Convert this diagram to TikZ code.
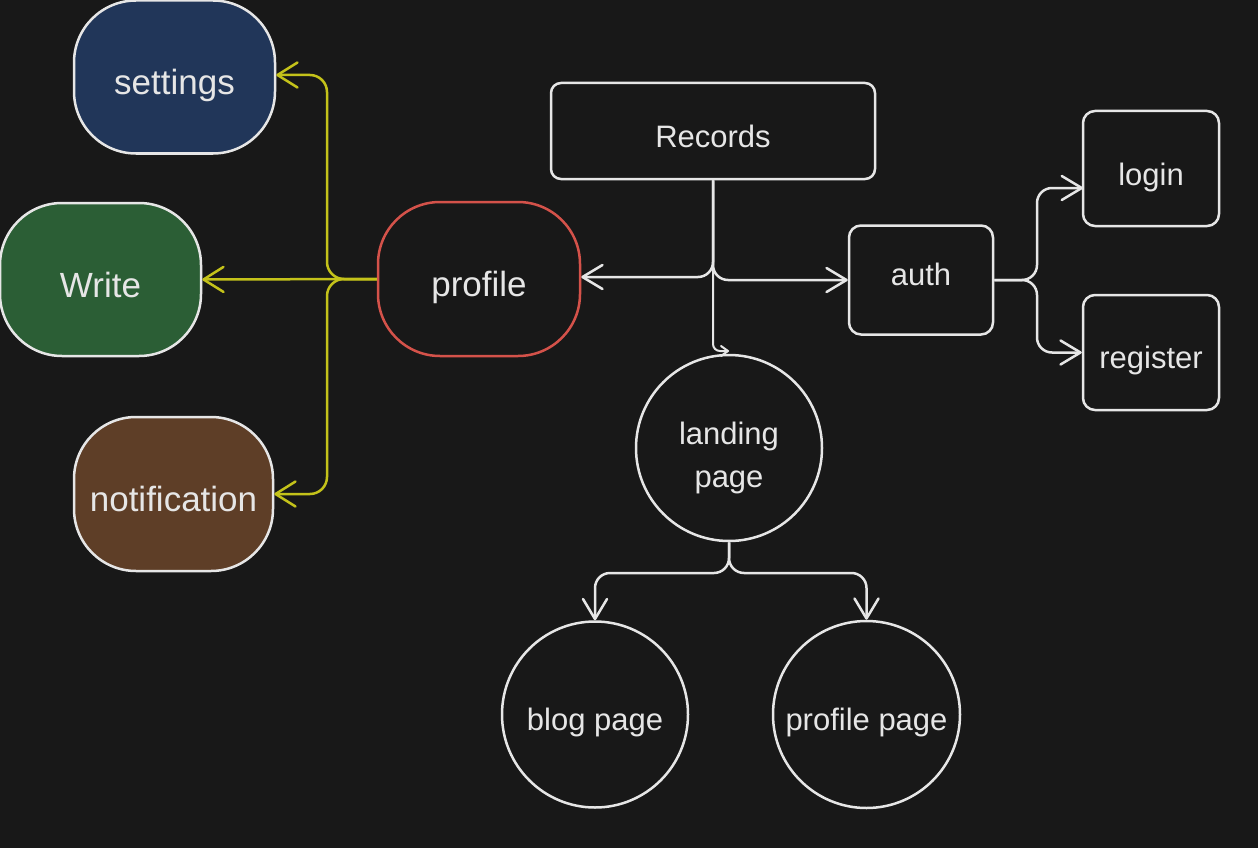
\documentclass[tikz,border=0pt]{standalone}
\usepackage{fontspec}
\setmainfont{Liberation Sans}
\usetikzlibrary{arrows.meta}
\definecolor{bg}{HTML}{181818}
\definecolor{ink}{HTML}{E6E6E6}
\definecolor{blobblue}{HTML}{213659}
\definecolor{blobgreen}{HTML}{2B5E35}
\definecolor{blobbrown}{HTML}{5E3E27}
\definecolor{redline}{HTML}{D4524A}
\definecolor{yel}{HTML}{C4C21A}
\tikzset{
  blob/.style={draw=ink, line width=2.5pt, rounded corners=62pt, text=ink, font=\fontsize{35}{40}\selectfont, text height=35pt, text depth=0pt},
  boxnode/.style={draw=ink, line width=2.5pt, rounded corners=12pt, text=ink, font=\fontsize{31}{36}\selectfont, text depth=0pt},
  circnode/.style={draw=ink, line width=2.5pt, circle, inner sep=0pt, text=ink, font=\fontsize{31}{43}\selectfont, align=center},
  lbl/.style={text=ink, font=\fontsize{31}{43}\selectfont, align=center},
  yconn/.style={draw=yel, line width=2.5pt, rounded corners=17pt, -{Straight Barb[length=20pt,width=25pt,round]}},
  wconn/.style={draw=ink, line width=2.5pt, rounded corners=15pt, -{Straight Barb[length=20pt,width=24pt,round]}},
  wsmall/.style={draw=ink, line width=2pt, rounded corners=7pt, -{Straight Barb[length=7pt,width=10pt,round]}},
}
\begin{document}
\begin{tikzpicture}[x=1pt,y=-1pt]
\fill[bg] (0,0) rectangle (1258,848);
\useasboundingbox (0,0) rectangle (1258,848);
% nodes
\node[blob, fill=blobblue, minimum width=201pt, minimum height=153pt] (settings) at (174.5,77) {settings};
\node[blob, fill=blobgreen, minimum width=201pt, minimum height=153pt] (write) at (100.5,279.5) {Write};
\node[blob, fill=blobbrown, minimum width=199pt, minimum height=154pt] (notif) at (173.5,494) {notification};
\node[blob, draw=redline, minimum width=202pt, minimum height=154pt] (profile) at (479,279) {profile};
\node[boxnode, minimum width=324pt, minimum height=96pt, rounded corners=10pt, text height=32pt] (records) at (713,131) {Records};
\node[boxnode, minimum width=144pt, minimum height=109pt, text height=11pt] (auth) at (921,280) {auth};
\node[boxnode, minimum width=136pt, minimum height=115pt, text height=33pt] (login) at (1151,168.5) {login};
\node[boxnode, minimum width=136pt, minimum height=115pt, text height=31pt] (register) at (1151,352.5) {register};
\node[circnode, minimum size=186pt] (landing) at (729,448) {};
\node[lbl, yshift=-10pt] (landingtext) at (landing.center) {landing\\page};
\node[circnode, minimum size=186pt, text height=31pt, text depth=0pt] (blog) at (595,714.5) {blog page};
\node[circnode, minimum size=187pt, text height=31pt, text depth=0pt] (ppage) at (866.5,714.5) {profile page};
% yellow connectors
\draw[yconn] (profile.west) -- (write.east);
\draw[yconn] (profile.west) -- (327,279) -- (327,75) -- (settings.east |- 0,75);
\draw[yconn] (profile.west) -- (327,279) -- (327,494) -- (notif.east);
% white connectors from Records
\coordinate (lt) at (729,351);
\draw[wconn] (records.south) -- (713,277) -- (profile.east |- 0,277);
\draw[wconn] (records.south) |- (auth.west);
\draw[wsmall] (records.south) |- (lt);
% auth
\coordinate (lin) at (1083,188);
\draw[wconn] (auth.east) -- (1037,280) |- (lin);
\draw[wconn] (auth.east) -- (1037,280) |- (register.west);
% landing
\draw[wconn] (landing.south) -- (729,573) -| (blog.north);
\draw[wconn] (landing.south) -- (729,573) -| (ppage.north);
\end{tikzpicture}
\end{document}
